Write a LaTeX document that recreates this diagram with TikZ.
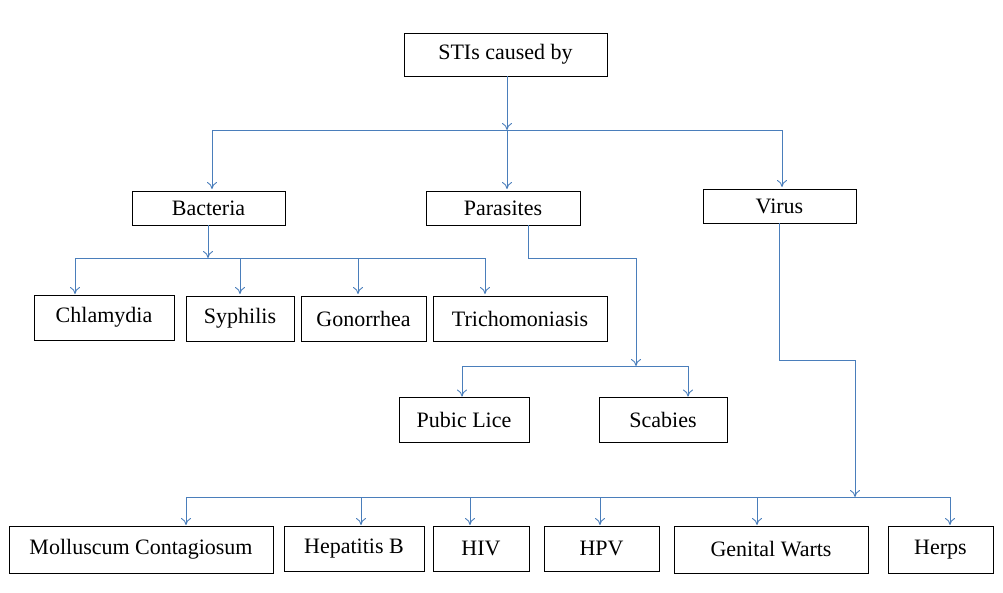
\documentclass[tikz,border=0pt]{standalone}
\usepackage{fontspec}
\setmainfont{Liberation Serif}
\usetikzlibrary{arrows.meta}
\begin{document}
\begin{tikzpicture}[x=1pt,y=-1pt,
  box/.style={draw=black,line width=0.9pt,inner sep=0pt,font=\fontsize{22}{26}\selectfont},
  conn/.style={draw={rgb,255:red,74;green,126;blue,187},line width=0.9pt},
  arr/.style={conn,-{To[length=7pt,width=10pt]}}]
\useasboundingbox (0,0) rectangle (1003,592);
\newcommand{\bx}[6]{\node[box,minimum width=#4-#2,minimum height=#5-#3] (#1) at ({(#2+#4)/2},{(#3+#5)/2}) {#6};}
\bx{stis}{404}{33}{607}{76}{STIs caused by}
\bx{bac}{132}{191}{285}{225}{Bacteria}
\bx{par}{426}{191}{580}{225}{Parasites}
\bx{vir}{703}{189}{856}{223}{Virus}
\bx{chl}{34}{295}{174}{340}{Chlamydia}
\bx{syp}{186}{296}{294}{341}{Syphilis}
\bx{gon}{301}{296}{426}{341}{Gonorrhea}
\bx{tri}{433}{296}{607}{341}{Trichomoniasis}
\bx{pub}{399}{397}{529}{442}{Pubic Lice}
\bx{sca}{599}{397}{727}{442}{Scabies}
\bx{mol}{9}{526}{273}{573}{Molluscum Contagiosum}
\bx{hep}{284}{526}{424}{571}{Hepatitis B}
\bx{hiv}{433}{526}{529}{571}{HIV}
\bx{hpv}{544}{526}{659}{571}{HPV}
\bx{gen}{674}{526}{868}{573}{Genital Warts}
\bx{her}{888}{526}{993}{573}{Herps}
% level 1
\coordinate (j1) at (507,130);
\draw[arr] (stis.south -| j1) -- (j1);
\draw[conn] (212,130) -- (782,130);
\draw[arr] (212,130) -- (212,189);
\draw[arr] (j1) -- (507,189);
\draw[arr] (782,130) -- (782,187);
% bacteria
\coordinate (j2) at (208,258);
\draw[arr] (bac.south -| j2) -- (j2);
\draw[conn] (75,258) -- (485,258);
\foreach \x in {75,240,358,485} \draw[arr] (\x,258) -- (\x,294);
% parasites
\coordinate (j3) at (636,366);
\draw[arr] (528,225) |- (636,258) -- (j3);
\draw[conn] (462,366) -- (688,366);
\draw[arr] (462,366) -- (pub.north -| 462,0);
\draw[arr] (688,366) -- (sca.north -| 688,0);
% virus
\coordinate (j4) at (855,497);
\draw[arr] (779,223) |- (855,360) -- (j4);
\draw[conn] (186,497) -- (950,497);
\foreach \x in {186,361,470,600,757,950} \draw[arr] (\x,497) -- (\x,525);
\end{tikzpicture}
\end{document}
